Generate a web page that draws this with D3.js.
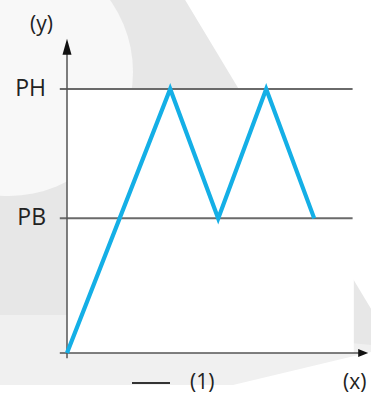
<!DOCTYPE html>
<html>
<head>
<meta charset="utf-8">
<script src="https://cdn.jsdelivr.net/npm/d3@7"></script>
<style>
  body { margin: 0; background: #fff; }
  svg { display: block; font-family: "Open Sans", "Noto Sans", sans-serif; }
</style>
</head>
<body>
<svg id="chart"></svg>
<script>
    // data
    var levelNames = ["PB", "PH"];
    var levelValues = [0.51, 1];
    var seriesX = [0, 4.3, 6.3, 8.3, 10.3];
    var seriesY = [0, 1, 0.51, 1, 0.51];
    var legendLabels = ["(1)"];
    var axisLabels = ["(x)", "(y)"];

    var width = 371, height = 396;

    var svg = d3.select("#chart")
        .attr("width", width)
        .attr("height", height);

    var x = d3.scaleLinear().domain([0, 12]).range([67, 355]);
    var y = d3.scaleLinear().domain([0, 1]).range([353, 89]);

    // faint watermark in the background
    var bg = svg.append("g");
    bg.append("path")
        .attr("d", "M0,0 L185,0 L371,309 L371,352 L233,385 L0,385 Z")
        .attr("fill", "#f0f0f0");
    bg.append("path")
        .attr("d", "M0,0 L185,0 L371,309 L371,345 L67,315 L0,315 Z")
        .attr("fill", "#e7e7e7");
    bg.append("circle")
        .attr("cx", 9).attr("cy", 72).attr("r", 124)
        .attr("fill", "#f8f8f8");
    bg.append("rect")
        .attr("x", x(0)).attr("y", y(1))
        .attr("width", x(11.95) - x(0)).attr("height", y(0) - y(1))
        .attr("fill", "#fff");

    // reference levels
    svg.selectAll(".level")
        .data(levelValues)
        .enter().append("line")
        .attr("class", "level")
        .attr("x1", x(-0.3)).attr("x2", x(11.9))
        .attr("y1", d => y(d)).attr("y2", d => y(d))
        .attr("stroke", "#6a6a6a")
        .attr("stroke-width", 2);

    svg.selectAll(".levelLabel")
        .data(levelNames)
        .enter().append("text")
        .attr("x", 46)
        .attr("y", (d, i) => y(levelValues[i]) + 7)
        .attr("text-anchor", "end")
        .attr("font-size", 23)
        .attr("fill", "#222")
        .text(d => d);

    // axes
    svg.append("line")
        .attr("x1", x(0)).attr("x2", x(0))
        .attr("y1", y(-0.02)).attr("y2", y(1.15))
        .attr("stroke", "#555").attr("stroke-width", 1.5);
    svg.append("path")
        .attr("d", "M" + x(0) + "," + y(1.19) + " l-4.5,16 l9,0 Z")
        .attr("fill", "#111");

    svg.append("line")
        .attr("x1", x(-0.3)).attr("x2", x(12.2))
        .attr("y1", y(0)).attr("y2", y(0))
        .attr("stroke", "#555").attr("stroke-width", 1.5);
    svg.append("path")
        .attr("d", "M" + x(12.55) + "," + y(0) + " l-10,-4 l0,8 Z")
        .attr("fill", "#111");

    svg.append("text")
        .attr("x", 30).attr("y", 31)
        .attr("font-size", 21)
        .attr("fill", "#222")
        .text(axisLabels[1]);
    svg.append("text")
        .attr("x", 343).attr("y", 389)
        .attr("font-size", 21)
        .attr("fill", "#222")
        .text(axisLabels[0]);

    // series
    var line = d3.line()
        .x((d, i) => x(seriesX[i]))
        .y(d => y(d));

    svg.append("path")
        .datum(seriesY)
        .attr("d", line)
        .attr("fill", "none")
        .attr("stroke", "#14afe6")
        .attr("stroke-width", 4.2)
        .attr("stroke-linejoin", "miter");

    // legend
    var legend = svg.append("g");
    legend.append("line")
        .attr("x1", 132).attr("x2", 170)
        .attr("y1", 383).attr("y2", 383)
        .attr("stroke", "#333").attr("stroke-width", 2);
    legend.append("text")
        .attr("x", 190).attr("y", 389)
        .attr("font-size", 21)
        .attr("fill", "#222")
        .text(legendLabels[0]);
</script>
</body>
</html>
